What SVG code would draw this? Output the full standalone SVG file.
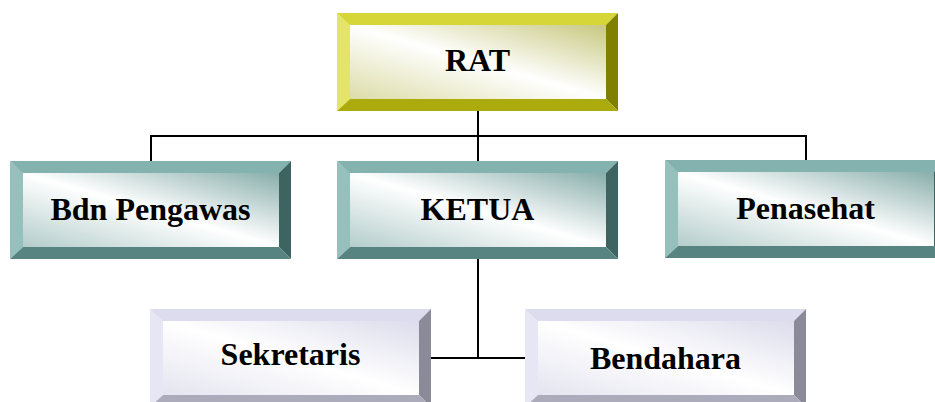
<svg xmlns="http://www.w3.org/2000/svg" width="935" height="402" viewBox="0 0 935 402">
<style>
text{font-family:"Liberation Serif","Times New Roman",serif;font-weight:bold;font-size:32px;fill:#000;text-anchor:middle}
.conn{stroke:#000;stroke-width:2;fill:none}
.y .t{fill:#d6d639}.y .l{fill:#e4e466}.y .r{fill:#7f7f00}.y .b{fill:#abab0e}.y .f{fill:url(#gy)}
.g .t{fill:#84b2ae}.g .l{fill:#95c0bc}.g .r{fill:#3e6462}.g .b{fill:#578481}.g .f{fill:url(#gg)}
.v .t{fill:#dcdcee}.v .l{fill:#e6e6f4}.v .r{fill:#8a8a98}.v .b{fill:#ababbb}.v .f{fill:url(#gv)}
</style>
<defs>
<linearGradient id="gy" x1="0" y1="1" x2="1" y2="0"><stop offset="0" stop-color="#dcdca8"/><stop offset="0.5" stop-color="#ffffff"/><stop offset="1" stop-color="#c8c880"/></linearGradient>
<linearGradient id="gg" x1="0" y1="1" x2="1" y2="0"><stop offset="0" stop-color="#b3cdcb"/><stop offset="0.5" stop-color="#ffffff"/><stop offset="1" stop-color="#88aeab"/></linearGradient>
<linearGradient id="gv" x1="0" y1="1" x2="1" y2="0"><stop offset="0" stop-color="#e4e4f0"/><stop offset="0.5" stop-color="#ffffff"/><stop offset="1" stop-color="#dcdcec"/></linearGradient>
</defs>
<g id="connectors">
<path class="conn" d="M478,111 V136 M151,136 H806 M151,135 V161 M478,136 V161 M806,135 V160"/>
<path class="conn" d="M478,259 V358 M431,358 H525"/>
</g>
<g id="rat" class="y" transform="translate(337,13)">
<rect class="f" x="12" y="12" width="257" height="74"/>
<polygon class="t" points="0,0 281,0 269,12 12,12"/>
<polygon class="l" points="0,0 13,12 13,86 0,98"/>
<polygon class="r" points="281,0 281,98 269,86 269,12"/>
<polygon class="b" points="0,98 13,86 269,86 281,98"/>
<text x="140.5" y="58">RAT</text>
</g>
<g id="bdn-pengawas" class="g" transform="translate(10,161)">
<rect class="f" x="12" y="12" width="257" height="74"/>
<polygon class="t" points="0,0 281,0 269,12 12,12"/>
<polygon class="l" points="0,0 13,12 13,86 0,98"/>
<polygon class="r" points="281,0 281,98 269,86 269,12"/>
<polygon class="b" points="0,98 13,86 269,86 281,98"/>
<text x="140.5" y="59">Bdn Pengawas</text>
</g>
<g id="ketua" class="g" transform="translate(337,161)">
<rect class="f" x="12" y="12" width="257" height="74"/>
<polygon class="t" points="0,0 281,0 269,12 12,12"/>
<polygon class="l" points="0,0 13,12 13,86 0,98"/>
<polygon class="r" points="281,0 281,98 269,86 269,12"/>
<polygon class="b" points="0,98 13,86 269,86 281,98"/>
<text x="140.5" y="59">KETUA</text>
</g>
<g id="penasehat" class="g" transform="translate(665,160)">
<rect class="f" x="12" y="12" width="257" height="74"/>
<polygon class="t" points="0,0 281,0 269,12 12,12"/>
<polygon class="l" points="0,0 13,12 13,86 0,98"/>
<polygon class="r" points="281,0 281,98 269,86 269,12"/>
<polygon class="b" points="0,98 13,86 269,86 281,98"/>
<text x="140.5" y="59">Penasehat</text>
</g>
<g id="sekretaris" class="v" transform="translate(150,309)">
<rect class="f" x="12" y="12" width="257" height="74"/>
<polygon class="t" points="0,0 281,0 269,12 12,12"/>
<polygon class="l" points="0,0 13,12 13,86 0,98"/>
<polygon class="r" points="281,0 281,98 269,86 269,12"/>
<polygon class="b" points="0,98 13,86 269,86 281,98"/>
<text x="140.5" y="56">Sekretaris</text>
</g>
<g id="bendahara" class="v" transform="translate(525,309)">
<rect class="f" x="12" y="12" width="257" height="74"/>
<polygon class="t" points="0,0 281,0 269,12 12,12"/>
<polygon class="l" points="0,0 13,12 13,86 0,98"/>
<polygon class="r" points="281,0 281,98 269,86 269,12"/>
<polygon class="b" points="0,98 13,86 269,86 281,98"/>
<text x="140.5" y="60">Bendahara</text>
</g>
</svg>
